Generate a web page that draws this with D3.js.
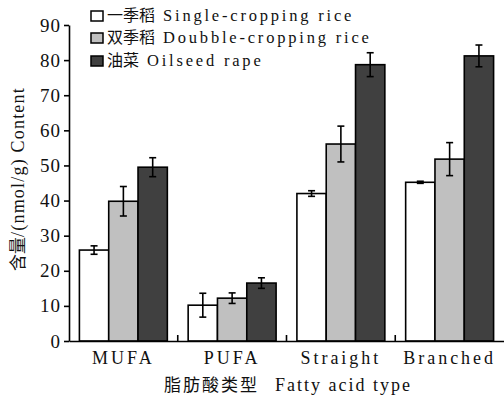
<!DOCTYPE html>
<html><head><meta charset="utf-8">
<script src="https://cdn.jsdelivr.net/npm/d3@7"></script>
<style>body{margin:0;background:#fff}svg{display:block}</style>
</head><body>
<script>
const categories = ["MUFA", "PUFA", "Straight", "Branched"];
const seriesNames = ["一季稻 Single-cropping rice", "双季稻 Doubble-cropping rice", "油菜 Oilseed rape"];
const seriesCN = ["一季稻", "双季稻", "油菜"];
const seriesEN = ["Single-cropping rice", "Doubble-cropping rice", "Oilseed rape"];
const singleRice = [25.9, 10.2, 42.0, 45.2];
const singleErr = [1.2, 3.4, 0.8, 0.3];
const doubleRice = [39.8, 12.2, 56.1, 51.8];
const doubleErr = [4.2, 1.5, 5.1, 4.7];
const rape = [49.5, 16.5, 78.7, 81.2];
const rapeErr = [2.7, 1.5, 3.4, 3.1];
const yTicks = [0, 10, 20, 30, 40, 50, 60, 70, 80, 90];
const fills = ["#ffffff", "#c0c0c0", "#404040"];

(function () {
const W = 504, H = 404;
const svg = d3.select("body").append("svg").attr("width", W).attr("height", H);
const mL = 69, mR = 504, mT = 25, mB = 341;
const SERIF = "'Liberation Serif', serif";
const CJK = "'Noto Sans CJK SC', sans-serif";

const y = d3.scaleLinear().domain([0, 90]).range([mB, mT]);
const x0 = d3.scaleBand().domain(categories).range([mL, mR]).padding(0);
const x1 = d3.scaleBand().domain([0, 1, 2]).range([0, x0.bandwidth()]).paddingInner(0).paddingOuter(0.355);

const vals = [singleRice, doubleRice, rape];
const errs = [singleErr, doubleErr, rapeErr];
const data = [];
categories.forEach((c, i) => vals.forEach((v, s) => data.push({c, s, v: v[i], e: errs[s][i]})));

svg.append("g").selectAll("rect").data(data).join("rect")
  .attr("x", d => x0(d.c) + x1(d.s))
  .attr("y", d => y(d.v))
  .attr("width", x1.bandwidth())
  .attr("height", d => y(0) - y(d.v))
  .attr("fill", d => fills[d.s])
  .attr("stroke", "#000").attr("stroke-width", 1.6);

const eg = svg.append("g").attr("stroke", "#000").attr("stroke-width", 1.6);
data.forEach(d => {
  const cx = x0(d.c) + x1(d.s) + x1.bandwidth() / 2;
  eg.append("line").attr("x1", cx).attr("x2", cx).attr("y1", y(d.v + d.e)).attr("y2", y(d.v - d.e));
  [d.v + d.e, d.v - d.e].forEach(t => eg.append("line").attr("x1", cx - 3.5).attr("x2", cx + 3.5).attr("y1", y(t)).attr("y2", y(t)));
});

const ya = svg.append("g").attr("transform", `translate(${mL},0)`)
  .call(d3.axisLeft(y).tickValues(yTicks).tickSize(5).tickPadding(3).tickSizeOuter(0));
ya.attr("font-family", null).attr("font-size", null);
ya.select(".domain").attr("stroke-width", 1.6);
ya.selectAll(".tick line").attr("stroke-width", 1.6);
ya.selectAll("text").style("font-family", SERIF).style("font-size", "19px").attr("fill", "#111").style("letter-spacing", "1px");

const xa = svg.append("g").attr("transform", `translate(0,${mB})`)
  .call(d3.axisBottom(x0).tickSize(0).tickPadding(8).tickSizeOuter(0));
xa.attr("font-family", null).attr("font-size", null);
xa.select(".domain").attr("stroke-width", 1.6);
xa.selectAll("text").style("font-family", SERIF).style("font-size", "18px").attr("fill", "#111").style("letter-spacing", "3px").attr("dy", "0.85em");
svg.append("g").selectAll("line").data(categories.slice(0, 3)).join("line")
  .attr("x1", c => x0(c) + x0.bandwidth()).attr("x2", c => x0(c) + x0.bandwidth())
  .attr("y1", mB).attr("y2", mB - 6).attr("stroke", "#000").attr("stroke-width", 1.6);

const xt = svg.append("text").attr("x", 288).attr("y", 391).attr("text-anchor", "middle").attr("fill", "#111");
xt.append("tspan").style("font-family", CJK).style("font-size", "17px").style("letter-spacing", "2px").text("脂肪酸类型");
xt.append("tspan").style("font-family", SERIF).style("font-size", "18px").style("letter-spacing", "2px").attr("dx", 16).text("Fatty acid type");

const yt = svg.append("text").attr("transform", `translate(24,179) rotate(-90)`).attr("text-anchor", "middle").attr("fill", "#111");
yt.append("tspan").style("font-family", CJK).style("font-size", "17px").text("含量");
yt.append("tspan").style("font-family", SERIF).style("font-size", "18px").style("letter-spacing", "1.2px").text("/(nmol/g) Content");

const rowsY = [16, 38, 61];
const lg = svg.append("g");
seriesNames.forEach((n, i) => {
  lg.append("rect").attr("x", 91).attr("y", rowsY[i] - 5).attr("width", 12).attr("height", 10)
    .attr("fill", fills[i]).attr("stroke", "#000").attr("stroke-width", 1.5);
  const t = lg.append("text").attr("x", 107).attr("y", rowsY[i] + 5).attr("fill", "#111");
  t.append("tspan").style("font-family", CJK).style("font-size", "16px").text(seriesCN[i]);
  t.append("tspan").style("font-family", SERIF).style("font-size", "16.5px").style("letter-spacing", "2.8px").attr("dx", 8).text(seriesEN[i]);
});
})();
</script>
</body></html>
